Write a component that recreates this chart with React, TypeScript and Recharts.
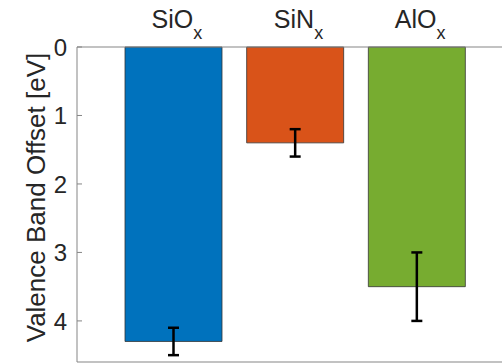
import React from 'react';
import { BarChart, Bar, XAxis, YAxis, ErrorBar, Cell, ReferenceLine } from 'recharts';

const categories = ['SiO', 'SiN', 'AlO'];
const subscripts = ['x', 'x', 'x'];
const offsets = [4.3, 1.4, 3.5];
const errors = [0.2, 0.2, 0.5];
const yTicks = [0, 1, 2, 3, 4];
const yMax = 4.6;
const colors = ['#0072BD', '#D95319', '#77AC30'];

const data = categories.map((c, i) => ({ name: c, sub: subscripts[i], value: offsets[i], err: errors[i] }));

const FONT = '"Liberation Sans", Arial, Helvetica, sans-serif';
const TEXT = '#262626';
const AXIS = '#858585';

function CatTick(props: any) {
  const { x, y, payload, index } = props;
  return (
    <text x={x + 3} y={y - 19} textAnchor="middle" fontSize={25} fill={TEXT} fontFamily={FONT}>
      <tspan>{payload.value}</tspan>
      <tspan dy={11} fontSize={18}>{subscripts[index]}</tspan>
    </text>
  );
}

function YTick(props: any) {
  const { x, y, payload } = props;
  return (
    <g>
      <line x1={x + 10} y1={y} x2={x + 15} y2={y} stroke={AXIS} strokeWidth={1} />
      <text x={x} y={y} dy="0.36em" textAnchor="end" fontSize={24} fill={TEXT} fontFamily={FONT}>
        {payload.value}
      </text>
    </g>
  );
}

function YLabel(props: any) {
  const vb = props.viewBox;
  const cy = vb.y + vb.height / 2 - 7;
  const cx = 45;
  return (
    <text x={cx} y={cy} transform={`rotate(-90, ${cx}, ${cy})`} textAnchor="middle" fontSize={26} fill={TEXT} fontFamily={FONT}>
      Valence Band Offset [eV]
    </text>
  );
}

export default function App() {
  return (
    <div style={{ position: 'absolute', left: 0, top: 0, width: 502, height: 363, overflow: 'hidden', background: '#fff' }}>
      <BarChart width={516} height={363} data={data} margin={{ top: 0, right: 2, bottom: 1, left: 0 }}>
        <XAxis
          dataKey="name"
          orientation="top"
          height={47}
          padding={{ left: 36, right: 36 }}
          axisLine={{ stroke: AXIS, strokeWidth: 1 }}
          tickLine={false}
          tickSize={0}
          tickMargin={0}
          tick={<CatTick />}
          interval={0}
        />
        <YAxis
          type="number"
          reversed
          domain={[0, yMax]}
          ticks={yTicks}
          width={77}
          axisLine={{ stroke: AXIS, strokeWidth: 1 }}
          tickLine={false}
          tickSize={0}
          tickMargin={10}
          tick={<YTick />}
          interval={0}
          label={{ content: <YLabel /> }}
        />
        <ReferenceLine y={yMax} stroke={AXIS} strokeWidth={1} />
        <Bar dataKey="value" barSize={97} isAnimationActive={false} stroke="#333" strokeWidth={0.8}>
          {data.map((d, i) => (
            <Cell key={d.name} fill={colors[i]} />
          ))}
          <ErrorBar dataKey="err" width={5.5} strokeWidth={2.5} stroke="#000" direction="y" isAnimationActive={false} />
        </Bar>
      </BarChart>
    </div>
  );
}
